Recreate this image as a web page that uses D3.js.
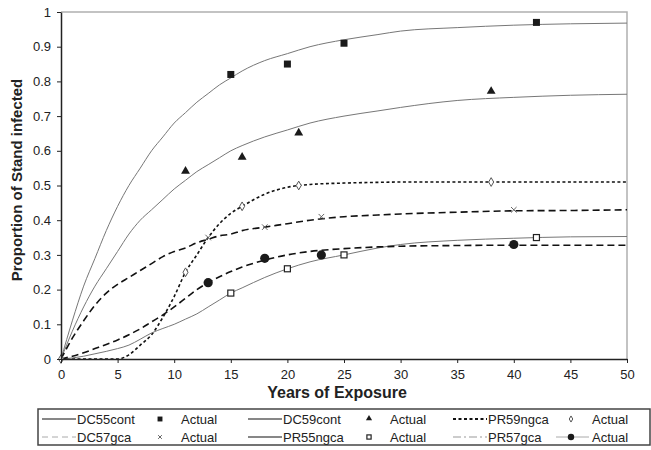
<!DOCTYPE html>
<html>
<head>
<meta charset="utf-8">
<script src="https://cdn.jsdelivr.net/npm/d3@7"></script>
<style>
body { margin:0; background:#fff; }
svg { font-family: "Liberation Sans", Arial, sans-serif; }
</style>
</head>
<body>
<svg></svg>
<script>
var years = [0,1,2,3,4,5,6,7,8,9,10,11,12,13,14,15,16,18,20,22,25,28,30,35,40,45,50];

// fitted curves (proportion of stand infected)
var dc55cont = [0,0.11,0.21,0.29,0.37,0.44,0.50,0.55,0.60,0.64,0.68,0.71,0.74,0.765,0.79,0.81,0.83,0.86,0.88,0.90,0.92,0.935,0.945,0.955,0.962,0.966,0.968];
var dc59cont = [0,0.08,0.15,0.21,0.26,0.31,0.36,0.40,0.43,0.46,0.49,0.515,0.54,0.56,0.58,0.60,0.615,0.64,0.66,0.68,0.70,0.715,0.725,0.745,0.754,0.76,0.763];
var pr59ngca = [0,0,0,0,0,0,0.012,0.04,0.07,0.12,0.18,0.25,0.30,0.35,0.39,0.42,0.44,0.475,0.495,0.503,0.507,0.509,0.51,0.51,0.51,0.51,0.51];
var dc57gca = [0,0.06,0.11,0.155,0.19,0.215,0.235,0.255,0.275,0.295,0.31,0.32,0.335,0.345,0.355,0.36,0.37,0.38,0.39,0.40,0.41,0.415,0.418,0.423,0.427,0.428,0.43];
var pr55ngca = [0,0.003,0.008,0.015,0.022,0.03,0.04,0.057,0.075,0.088,0.10,0.115,0.13,0.15,0.17,0.19,0.205,0.235,0.26,0.28,0.30,0.32,0.33,0.342,0.348,0.352,0.353];
var pr57gca = [0,0.008,0.018,0.03,0.042,0.055,0.07,0.087,0.107,0.127,0.15,0.175,0.20,0.22,0.237,0.252,0.265,0.285,0.30,0.31,0.318,0.323,0.325,0.327,0.328,0.328,0.328];

// actual observations
var dc55Years = [15,20,25,42];
var dc55Actual = [0.82,0.85,0.91,0.97];
var dc59Years = [11,16,21,38];
var dc59Actual = [0.54,0.58,0.65,0.77];
var pr59Years = [0,11,16,21,38];
var pr59Actual = [0,0.25,0.44,0.50,0.51];
var dc57Years = [13,18,23,40];
var dc57Actual = [0.35,0.38,0.41,0.43];
var pr55Years = [15,20,25,42];
var pr55Actual = [0.19,0.26,0.30,0.35];
var pr57Years = [13,18,23,40];
var pr57Actual = [0.22,0.29,0.30,0.33];

var xTicks = [0,5,10,15,20,25,30,35,40,45,50];
var yTicks = [0,0.1,0.2,0.3,0.4,0.5,0.6,0.7,0.8,0.9,1];

var screen = {width:651, height:450};
var margins = {top:12, left:61, right:24, bottom:91};
var width = screen.width-margins.left-margins.right;
var height = screen.height-margins.top-margins.bottom;

var svg = d3.select('svg')
  .attr('width',screen.width)
  .attr('height',screen.height);

var xScale = d3.scaleLinear().domain([0,50]).range([0,width]);
var yScale = d3.scaleLinear().domain([0,1]).range([height,0]);

var plot = svg.append('g')
  .attr('transform','translate('+margins.left+','+margins.top+')');

// grey frame top + right
plot.append('path')
  .attr('d','M0,0H'+width+'V'+height)
  .attr('fill','none')
  .attr('stroke','#b0b0b0')
  .attr('stroke-width',1.5);

// curve styles
var curves = [
  {name:'DC55cont', vals:dc55cont, color:'#777', w:1, dash:null, lColor:'#111', lDash:null, lW:1.2},
  {name:'DC59cont', vals:dc59cont, color:'#777', w:1, dash:null, lColor:'#111', lDash:null, lW:1.2},
  {name:'PR59ngca', vals:pr59ngca, color:'#111', w:1.6, dash:'3,2.5', lColor:'#111', lDash:'3,2.5', lW:2},
  {name:'DC57gca', vals:dc57gca, color:'#111', w:1.6, dash:'7,4', lColor:'#aaa', lDash:'6,4', lW:1},
  {name:'PR55ngca', vals:pr55ngca, color:'#777', w:1, dash:null, lColor:'#111', lDash:null, lW:1.2},
  {name:'PR57gca', vals:pr57gca, color:'#111', w:1.6, dash:'7,4', lColor:'#999', lDash:'8,3,2,3', lW:1}
];

var line = d3.line()
  .x(function(d){return xScale(d[0]);})
  .y(function(d){return yScale(d[1]);})
  .curve(d3.curveMonotoneX);

curves.forEach(function(c)
{
  var pts = years.map(function(y,i){return [y,c.vals[i]];});
  plot.append('path')
    .datum(pts)
    .attr('d',line)
    .attr('fill','none')
    .attr('stroke',c.color)
    .attr('stroke-width',c.w)
    .attr('stroke-dasharray',c.dash);
});

// marker drawing
var drawMarker = function(g,type,x,y,small)
{
  var k = small ? 0.7 : 1;
  if(type=='fsquare')
  {
    g.append('rect').attr('x',x-3.5*k).attr('y',y-3.5*k).attr('width',7*k).attr('height',7*k).attr('fill','#1a1a1a');
  }
  else if(type=='triangle')
  {
    g.append('path').attr('d',d3.symbol(d3.symbolTriangle,34*k*k)()).attr('transform','translate('+x+','+(y-0.5)+')').attr('fill','#1a1a1a');
  }
  else if(type=='diamond')
  {
    g.append('path').attr('d',d3.symbol(d3.symbolDiamond,22*k*k)()).attr('transform','translate('+x+','+y+')').attr('fill','#fff').attr('stroke','#555').attr('stroke-width',1);
  }
  else if(type=='times')
  {
    g.append('path').attr('d',d3.symbol(d3.symbolTimes,22*k*k)()).attr('transform','translate('+x+','+y+')').attr('fill','none').attr('stroke','#666').attr('stroke-width',1);
  }
  else if(type=='osquare')
  {
    g.append('rect').attr('x',x-3*k).attr('y',y-3*k).attr('width',6*k).attr('height',6*k).attr('fill','#fff').attr('stroke','#222').attr('stroke-width',1.2);
  }
  else if(type=='circle')
  {
    g.append('circle').attr('cx',x).attr('cy',y).attr('r',4.6*k).attr('fill','#1a1a1a');
  }
}

var actuals = [
  {xs:dc55Years, ys:dc55Actual, type:'fsquare'},
  {xs:dc59Years, ys:dc59Actual, type:'triangle'},
  {xs:pr59Years, ys:pr59Actual, type:'diamond'},
  {xs:dc57Years, ys:dc57Actual, type:'times'},
  {xs:pr55Years, ys:pr55Actual, type:'osquare'},
  {xs:pr57Years, ys:pr57Actual, type:'circle'}
];
actuals.forEach(function(a)
{
  a.xs.forEach(function(xv,i)
  {
    drawMarker(plot,a.type,xScale(xv),yScale(a.ys[i]),false);
  });
});

// axes
var xAxis = d3.axisBottom(xScale).tickValues(xTicks).tickSize(4).tickSizeOuter(0).tickPadding(7);
var yAxis = d3.axisLeft(yScale).tickValues(yTicks).tickSize(4).tickSizeOuter(0).tickPadding(6)
  .tickFormat(function(d){return d==0||d==1 ? d : d3.format('.1f')(d);});

var xg = plot.append('g').attr('transform','translate(0,'+height+')').call(xAxis);
var yg = plot.append('g').call(yAxis);
[xg,yg].forEach(function(g)
{
  g.select('.domain').attr('stroke','#222').attr('stroke-width',1.5);
  g.selectAll('.tick line').attr('stroke','#222');
  g.selectAll('.tick text').attr('font-size',13).attr('fill','#222').attr('font-family','"Liberation Sans", Arial, sans-serif');
});

// titles
svg.append('text')
  .attr('x',337).attr('y',398)
  .attr('text-anchor','middle')
  .attr('font-size',16).attr('font-weight','bold').attr('fill','#222')
  .text('Years of Exposure');
svg.append('text')
  .attr('transform','translate(22,180) rotate(-90)')
  .attr('text-anchor','middle')
  .attr('font-size',15).attr('font-weight','bold').attr('fill','#222')
  .text('Proportion of Stand infected');

// legend
var legend = svg.append('g');
legend.append('rect')
  .attr('x',38).attr('y',409).attr('width',612).attr('height',36)
  .attr('fill','none').attr('stroke','#444').attr('stroke-width',1.5);

var colX = [42,248,453];
var markX = [160,369,571];
var rowY = [419,437];
var legendItems = [
  {c:0, m:'fsquare'}, {c:1, m:'triangle'}, {c:2, m:'diamond'},
  {c:3, m:'times'}, {c:4, m:'osquare'}, {c:5, m:'circle'}
];
legendItems.forEach(function(it,i)
{
  var col = i%3;
  var row = Math.floor(i/3);
  var cur = curves[it.c];
  var y = rowY[row];
  legend.append('line')
    .attr('x1',colX[col]).attr('x2',colX[col]+34)
    .attr('y1',y).attr('y2',y)
    .attr('stroke',cur.lColor).attr('stroke-width',cur.lW)
    .attr('stroke-dasharray',cur.lDash);
  legend.append('text')
    .attr('x',colX[col]+35).attr('y',y+4.5)
    .attr('font-size',13).attr('fill','#222')
    .text(cur.name);
  if(it.m=='circle')
  {
    legend.append('line')
      .attr('x1',markX[col]-15).attr('x2',markX[col]+18)
      .attr('y1',y).attr('y2',y)
      .attr('stroke','#aaa').attr('stroke-width',1);
  }
  drawMarker(legend,it.m,markX[col],y,true);
  legend.append('text')
    .attr('x',markX[col]+21).attr('y',y+4.5)
    .attr('font-size',13).attr('fill','#222')
    .text('Actual');
});
</script>
</body>
</html>
